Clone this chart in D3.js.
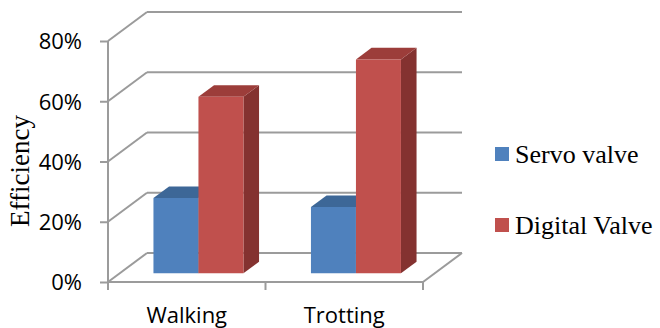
<!DOCTYPE html>
<html>
<head>
<meta charset="utf-8">
<script src="https://cdn.jsdelivr.net/npm/d3@7/dist/d3.min.js"></script>
<style>
  html, body { margin: 0; padding: 0; background: #fff; }
  svg { display: block; }
</style>
</head>
<body>
<svg id="chart" width="660" height="328"></svg>
<script>
// Efficiency of the two valve types per gait
const categories = ["Walking", "Trotting"];
const seriesNames = ["Servo valve", "Digital Valve"];
const servoValues = [0.25, 0.22];
const digitalValues = [0.586, 0.71];
const yTicks = [0, 0.2, 0.4, 0.6, 0.8];

const colors = {
  "Servo valve":   { front: "#4F81BD", top: "#3D6797", side: "#34598A" },
  "Digital Valve": { front: "#C0504D", top: "#9C3D3A", side: "#843230" }
};

const svg = d3.select("#chart");

// Front plane of the 3-D box and its depth offset
const left = 108, right = 423, base = 282;
const depthDX = 39, depthDY = -29;

const x = d3.scaleBand().domain(categories).range([left, right]);
const y = d3.scaleLinear().domain([0, 0.8]).range([base, 41]);
const z = d3.scaleLinear().domain([0, 1]).range([0, 1]); // depth fraction
const inner = d3.scaleBand().domain(seriesNames).range([0, 90]);

const proj = (px, py, d) => [px + depthDX * z(d), py + depthDY * z(d)];
const grid = "#9b9b9b";

// Back-wall gridlines with their left-wall diagonals
const g = svg.append("g");
yTicks.forEach(t => {
  const [bx, by] = proj(left, y(t), 1);
  g.append("line").attr("x1", left).attr("y1", y(t)).attr("x2", bx).attr("y2", by)
    .attr("stroke", grid).attr("stroke-width", 2);
  g.append("line").attr("x1", bx).attr("y1", by).attr("x2", proj(right, y(t), 1)[0]).attr("y2", by)
    .attr("stroke", grid).attr("stroke-width", 2);
});
// floor right edge
{
  const [bx, by] = proj(right, base, 1);
  g.append("line").attr("x1", right).attr("y1", base).attr("x2", bx).attr("y2", by)
    .attr("stroke", grid).attr("stroke-width", 2);
}

// Value axis (front-left edge)
const yAxis = d3.axisLeft(y).tickValues(yTicks).tickFormat(d3.format(".0%")).tickSize(8).tickPadding(18);
const ya = svg.append("g").attr("transform", `translate(${left},0)`).call(yAxis);
ya.select(".domain").attr("stroke", grid).attr("stroke-width", 2).attr("d", `M0,${y(0.8)}V${base + 8}`);
ya.selectAll(".tick line").attr("stroke", grid).attr("stroke-width", 2);
ya.selectAll(".tick text").attr("fill", "#000").attr("font-family", "'Open Sans', sans-serif")
  .attr("font-size", 22).attr("dy", "0.36em");

// Category axis (front floor edge)
const xAxis = d3.axisBottom(x).tickSize(0).tickPadding(25);
const xa = svg.append("g").attr("transform", `translate(0,${base})`).call(xAxis);
xa.select(".domain").attr("stroke", grid).attr("stroke-width", 2).attr("d", `M${left},0H${right}`);
xa.selectAll(".tick text").attr("fill", "#000").attr("font-family", "'Open Sans', sans-serif")
  .attr("font-size", 22);
[left, left + x.bandwidth(), right].forEach(px => {
  xa.append("line").attr("x1", px).attr("x2", px).attr("y1", 0).attr("y2", 8)
    .attr("stroke", grid).attr("stroke-width", 2);
});

// 3-D bars
const z0 = 0.3, z1 = 0.7;
const bars = [];
categories.forEach((c, i) => {
  bars.push({ cat: c, series: seriesNames[0], value: servoValues[i] });
  bars.push({ cat: c, series: seriesNames[1], value: digitalValues[i] });
});
const pts = a => a.map(p => p.join(",")).join(" ");
const barG = svg.append("g");
bars.forEach(b => {
  const x0 = x(b.cat) + (x.bandwidth() - 90) / 2 + inner(b.series);
  const x1 = x0 + inner.bandwidth();
  const yT = y(b.value), yB = y(0);
  const c = colors[b.series];
  const f = [proj(x0, yT, z0), proj(x1, yT, z0), proj(x1, yB, z0), proj(x0, yB, z0)];
  const top = [proj(x0, yT, z0), proj(x0, yT, z1), proj(x1, yT, z1), proj(x1, yT, z0)];
  const side = [proj(x1, yT, z0), proj(x1, yT, z1), proj(x1, yB, z1), proj(x1, yB, z0)];
  barG.append("polygon").attr("points", pts(side)).attr("fill", c.side);
  barG.append("polygon").attr("points", pts(top)).attr("fill", c.top);
  barG.append("polygon").attr("points", pts(f)).attr("fill", c.front);
});

// Axis title
svg.append("text").attr("transform", "translate(29,171) rotate(-90)")
  .attr("text-anchor", "middle").attr("font-family", "'Liberation Serif', 'Times New Roman', serif")
  .attr("font-size", 27).attr("fill", "#000").text("Efficiency");

// Legend
const leg = svg.append("g");
seriesNames.forEach((s, i) => {
  const ly = 147 + i * 71;
  leg.append("rect").attr("x", 495).attr("y", ly).attr("width", 14).attr("height", 14)
    .attr("fill", colors[s].front);
  leg.append("text").attr("x", 515).attr("y", ly + 16)
    .attr("font-family", "'Liberation Serif', 'Times New Roman', serif")
    .attr("font-size", 26).attr("fill", "#000").text(s);
});
</script>
</body>
</html>
